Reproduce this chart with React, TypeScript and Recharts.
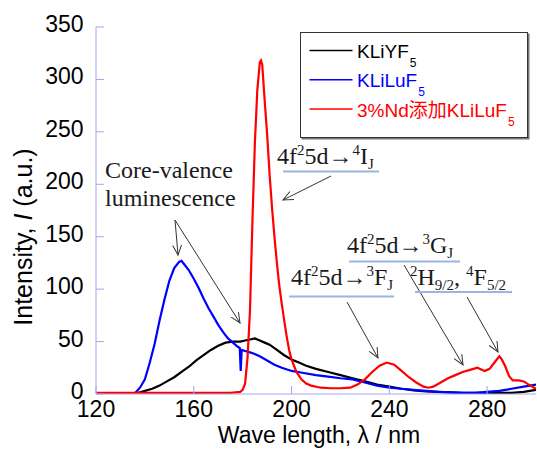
import { LineChart, Line, XAxis, YAxis, Legend } from "recharts";

const FRAME = "#a4a4f0";
const SANS = "'Liberation Sans', Arial, 'Noto Sans CJK SC', sans-serif";
const SERIF = "'Liberation Serif', 'Times New Roman', serif";

// KLiYF5 emission
const yfWave = [120, 134, 137, 140, 143, 146, 149, 152, 155, 158, 161, 164, 167, 170, 173, 176, 179, 181, 183, 185, 187, 189, 191, 194, 197, 200, 203, 206, 210, 215, 220, 225, 230, 235, 240, 245, 250, 255, 260, 270, 280, 290, 295, 300];
const yfInt = [0, 0, 1, 3, 5, 8, 12, 16, 21, 26, 32, 37, 42, 46, 49, 50, 50, 51, 52, 53, 51, 49, 47, 42, 37, 33, 30, 27, 24, 21, 18, 15, 12, 9, 7, 5, 3.5, 2.5, 2, 1, 1, 1, 2, 4];

// KLiLuF5 emission
const luWave = [120, 134, 136, 138, 140, 142, 144, 146, 148, 150, 152, 154, 155, 156, 158, 160, 162, 164, 166, 168, 170, 172, 174, 176, 178, 178.8, 179.2, 179.6, 181, 184, 187, 190, 193, 196, 200, 205, 210, 215, 220, 225, 230, 235, 240, 245, 250, 255, 260, 265, 270, 275, 280, 285, 290, 295, 300];
const luInt = [0, 0, 1, 6, 14, 30, 48, 70, 90, 108, 120, 126, 127, 124, 118, 110, 101, 91, 82, 74, 66, 59, 53, 49, 45, 44, 22, 42, 41, 39, 36, 32, 28, 25, 22, 20, 18, 16.5, 15, 14, 11, 8, 6, 5, 4, 3, 2, 1.5, 1, 1, 2, 3, 5, 7, 9];

// 3% Nd-doped KLiLuF5 emission
const ndWave = [120, 140, 160, 175, 179, 180, 181, 182, 183, 184, 185, 186, 187, 187.5, 188, 189, 190, 191, 192, 193, 194, 195, 196, 197, 198, 199, 200, 202, 204, 206, 208, 212, 216, 220, 224, 227, 230, 233, 236, 239, 242, 245, 248, 251, 254, 256, 258, 261, 264, 267, 270, 273, 276, 279, 281, 283, 285, 286, 287.5, 289, 290.5, 293, 295, 297, 300];
const ndInt = [1, 1, 1, 1, 2, 4, 10, 35, 80, 165, 240, 290, 316, 318, 314, 280, 248, 210, 178, 150, 125, 103, 86, 70, 55, 42, 33, 21, 14, 10, 8, 6, 5.5, 5.5, 6, 9, 14, 21, 27, 30, 28, 22, 16, 11, 7, 6, 7, 11, 15, 18, 21, 23, 25, 22, 24, 30, 36, 33, 26, 17, 13, 13, 12, 9, 5];

const xTicks = [120, 160, 200, 240, 280];
const yTicks = [0, 50, 100, 150, 200, 250, 300, 350];

const zip = (w: number[], v: number[]) => w.map((x, i) => ({ x, y: v[i] }));

const series = [
  { name: "KLiYF5", color: "#000000", data: zip(yfWave, yfInt) },
  { name: "KLiLuF5", color: "#0000ff", data: zip(luWave, luInt) },
  { name: "3%Nd添加KLiLuF5", color: "#ff0000", data: zip(ndWave, ndInt) },
];

const BottomTick = ({ x, y, payload }: any) => (
  <g>
    <line x1={x} y1={y} x2={x} y2={y - 8} stroke={FRAME} />
    <text x={x} y={y + 22.5} textAnchor="middle" fontSize={23} fontFamily={SANS} fill="#000">
      {payload.value}
    </text>
  </g>
);

const TopTick = ({ x, y }: any) => <line x1={x} y1={y} x2={x} y2={y + 8} stroke={FRAME} />;

const LeftTick = ({ x, y, payload }: any) => (
  <g>
    <line x1={x} y1={y} x2={x + 8} y2={y} stroke={FRAME} />
    <text x={x - 12.5} y={y + 5} textAnchor="end" fontSize={23} fontFamily={SANS} fill="#000">
      {payload.value}
    </text>
  </g>
);

const RightTick = ({ x, y }: any) => <line x1={x} y1={y} x2={x - 8} y2={y} stroke={FRAME} />;

const LegendBox = () => (
  <div
    style={{
      width: 228,
      height: 106,
      boxSizing: "border-box",
      border: "1.5px solid #333",
      boxShadow: "1.5px 1.5px 0 #777",
      background: "#fff",
    }}
  >
    <svg width={225} height={103} style={{ display: "block" }}>
      {series.map((s, i) => {
        const ly = 17.5 + i * 29.3;
        return (
          <g key={s.name}>
            <line x1={8.5} y1={ly} x2={51.5} y2={ly} stroke={s.color} strokeWidth={1.5} />
            <text x={56} y={ly + 7.5} fontSize={19} fontFamily={SANS} fill={s.color}>
              {s.name.slice(0, -1)}
              <tspan dx={1} dy={9} fontSize={12}>
                {s.name.slice(-1)}
              </tspan>
            </text>
          </g>
        );
      })}
    </svg>
  </div>
);

// 4f²5d → level label
const Transition = ({ x, y, sup, term, sub }: { x: number; y: number; sup: string; term: string; sub: string }) => (
  <text x={x} y={y} fontFamily={SERIF} fontSize={24} fill="#1a1a1a">
    4f
    <tspan fontSize={15} dy={-9}>2</tspan>
    <tspan dy={9}>5d→</tspan>
    <tspan fontSize={15} dy={-9}>{sup}</tspan>
    <tspan dy={9}>{term}</tspan>
    <tspan fontSize={15} dy={5}>{sub}</tspan>
  </text>
);

const Underline = ({ x1, x2, y }: { x1: number; x2: number; y: number }) => (
  <line x1={x1} x2={x2} y1={y} y2={y} stroke="#9ab6dc" strokeWidth={2} />
);

const Arrow = ({ x1, y1, x2, y2 }: { x1: number; y1: number; x2: number; y2: number }) => (
  <line x1={x1} y1={y1} x2={x2} y2={y2} stroke="#333" strokeWidth={1} markerEnd="url(#head)" />
);

const Annotations = () => (
  <svg
    width={537}
    height={451}
    style={{ position: "absolute", left: 0, top: 0, pointerEvents: "none" }}
  >
    <defs>
      <marker id="head" markerWidth={12} markerHeight={12} refX={10} refY={5} orient="auto" markerUnits="userSpaceOnUse">
        <path d="M0,0.5 L10,5 L0,9.5" fill="none" stroke="#333" strokeWidth={1} />
      </marker>
    </defs>

    <text x={32} y={237} transform="rotate(-90 32 237)" textAnchor="middle" fontSize={25} fontFamily={SANS} fill="#000">
      Intensity, <tspan fontStyle="italic">I</tspan> (a.u.)
    </text>
    <text x={319} y={443} textAnchor="middle" fontSize={23} fontFamily={SANS} fill="#000">
      Wave length, λ / nm
    </text>

    <text x={105} y={178} fontFamily={SERIF} fontSize={24} fill="#1a1a1a">Core-valence</text>
    <text x={105} y={206} fontFamily={SERIF} fontSize={24} fill="#1a1a1a">luminescence</text>
    <Arrow x1={175} y1={220} x2={178} y2={255} />
    <Arrow x1={175} y1={220} x2={240} y2={323} />

    <Transition x={277} y={164} sup="4" term="I" sub="J" />
    <Underline x1={283} x2={379} y={171.5} />
    <Arrow x1={331} y1={176} x2={283} y2={200} />

    <Transition x={347} y={253} sup="3" term="G" sub="J" />
    <Underline x1={349} x2={460} y={261.5} />
    <Arrow x1={404} y1={265} x2={463} y2={365} />

    <Transition x={291} y={285} sup="3" term="F" sub="J" />
    <Underline x1={289} x2={394} y={296.5} />
    <Arrow x1={347} y1={302} x2={378} y2={358} />

    <text x={410} y={285} fontFamily={SERIF} fontSize={24} fill="#1a1a1a">
      <tspan fontSize={15} dy={-9}>2</tspan>
      <tspan dy={9}>H</tspan>
      <tspan fontSize={15} dy={5}>9/2</tspan>
      <tspan dy={-5}>, </tspan>
      <tspan fontSize={15} dy={-9}>4</tspan>
      <tspan dy={9}>F</tspan>
      <tspan fontSize={15} dy={5}>5/2</tspan>
    </text>
    <Underline x1={415} x2={512} y={292} />
    <Arrow x1={467} y1={297} x2={498} y2={352} />
  </svg>
);

export default function App() {
  return (
    <div style={{ position: "absolute", left: 0, top: 0, width: 537, height: 451, background: "#fff" }}>
      <LineChart width={537} height={451} margin={{ top: 27, right: 1, bottom: 0, left: 0 }}>
        <XAxis
          dataKey="x"
          type="number"
          domain={[120, 300]}
          allowDataOverflow
          ticks={xTicks}
          height={57}
          tickSize={0}
          tickMargin={0}
          tickLine={false}
          axisLine={{ stroke: FRAME }}
          tick={BottomTick}
        />
        <XAxis
          xAxisId="top"
          orientation="top"
          type="number"
          domain={[120, 300]}
          allowDataOverflow
          ticks={xTicks}
          height={0}
          tickSize={0}
          tickMargin={0}
          tickLine={false}
          axisLine={{ stroke: FRAME }}
          tick={TopTick}
        />
        <YAxis
          type="number"
          domain={[0, 350]}
          allowDataOverflow
          ticks={yTicks}
          width={96}
          tickSize={0}
          tickMargin={0}
          tickLine={false}
          axisLine={{ stroke: FRAME }}
          tick={LeftTick}
        />
        <YAxis
          yAxisId="right"
          orientation="right"
          type="number"
          domain={[0, 350]}
          allowDataOverflow
          ticks={yTicks}
          width={0}
          tickSize={0}
          tickMargin={0}
          tickLine={false}
          axisLine={{ stroke: FRAME }}
          tick={RightTick}
        />
        {series.map((s) => (
          <Line
            key={s.name}
            name={s.name}
            data={s.data}
            dataKey="y"
            type="linear"
            stroke={s.color}
            strokeWidth={2.2}
            dot={false}
            isAnimationActive={false}
          />
        ))}
        <Legend
          layout="horizontal"
          verticalAlign="middle"
          align="center"
          wrapperStyle={{ left: 300, top: 32, width: 228 }}
          content={() => <LegendBox />}
        />
      </LineChart>
      <Annotations />
    </div>
  );
}
